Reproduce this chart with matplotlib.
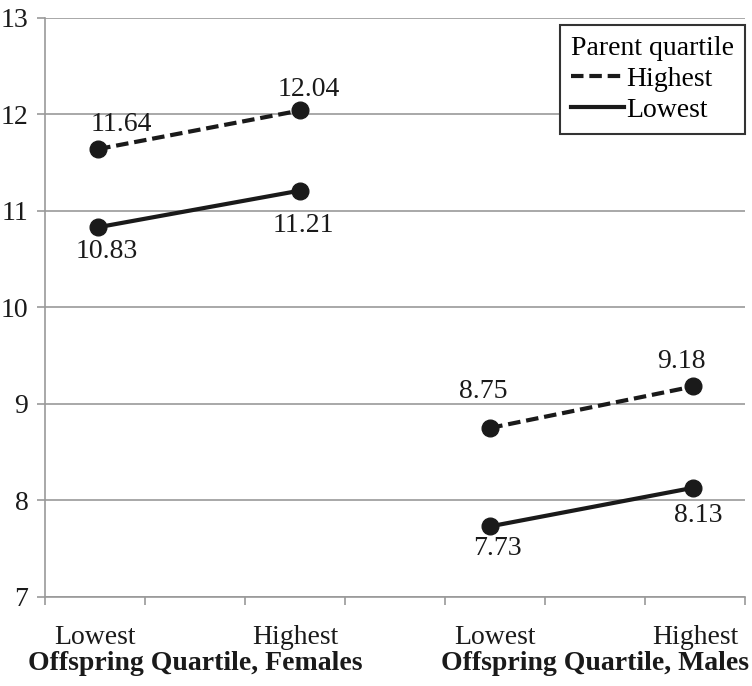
import matplotlib
matplotlib.use("Agg")
import matplotlib.pyplot as plt
from matplotlib.lines import Line2D

plt.rcParams['font.family'] = ['Liberation Serif', 'DejaVu Serif']

tick_labels = ["Lowest", "Highest", "Lowest", "Highest"]
group_labels = ["Offspring Quartile, Females", "Offspring Quartile, Males"]
highest_f = [11.64, 12.04]
lowest_f = [10.83, 11.21]
highest_m = [8.75, 9.18]
lowest_m = [7.73, 8.13]

xf = [0.03, 2.05]
xm = [3.95, 5.98]

fig = plt.figure(figsize=(7.52, 6.86), dpi=100)
ax = fig.add_axes([0.06, 0.13, 0.931, 0.844])

col = "#1a1a1a"
lw = 3.0
ms = 12
dash = (0, (3.0, 1.4))
for xs, h, l in [(xf, highest_f, lowest_f), (xm, highest_m, lowest_m)]:
    ax.plot(xs, h, linestyle=dash, color=col, lw=lw, marker='o', ms=ms, zorder=3)
    ax.plot(xs, l, linestyle='-', color=col, lw=lw, marker='o', ms=ms, zorder=3)

fs = 20

def lab(x, y, dx, dy):
    ax.annotate(f"{y:.2f}", (x, y), xytext=(dx, dy), textcoords='offset pixels',
                ha='center', va='center', fontsize=fs, color=col)

lab(xf[0], highest_f[0], 23, 25)
lab(xf[1], highest_f[1], 9, 21)
lab(xf[0], lowest_f[0], 9, -24)
lab(xf[1], lowest_f[1], 3, -35)
lab(xm[0], highest_m[0], -7, 36)
lab(xm[1], highest_m[1], -12, 25)
lab(xm[0], lowest_m[0], 7, -22)
lab(xm[1], lowest_m[1], 5, -28)

ax.set_xlim(-0.5, 6.5)
ax.set_ylim(7, 13)
ax.set_yticks(range(7, 14))
ax.set_xticks([0, 2, 4, 6])
ax.set_xticklabels(tick_labels, fontsize=fs, color=col)
ax.set_xticks([i - 0.5 for i in range(8)], minor=True)
ax.tick_params(axis='x', which='major', length=0, pad=20)
ax.tick_params(axis='x', which='minor', length=6, color='#999999', width=1.2)
ax.tick_params(axis='y', length=6, color='#999999', width=1.2, labelsize=fs, labelcolor=col, pad=6)
ax.grid(axis='y', color='#999999', lw=1.2)
ax.set_axisbelow(True)
for s in ['top', 'right']:
    ax.spines[s].set_visible(False)
for s in ['left', 'bottom']:
    ax.spines[s].set_color('#999999')
    ax.spines[s].set_linewidth(1.2)

for i, g in enumerate(group_labels):
    ax.text(1 + 4 * i, -0.116, g, transform=ax.get_xaxis_transform(),
            ha='center', va='center', fontsize=fs, fontweight='bold', color=col)

handles = [Line2D([0], [0], color=col, lw=lw, linestyle=dash),
           Line2D([0], [0], color=col, lw=lw, linestyle='-')]
leg = ax.legend(handles, ["Highest", "Lowest"], title="Parent quartile", loc='upper right',
                bbox_to_anchor=(1.0, 0.988), borderaxespad=0, fontsize=fs, title_fontsize=fs,
                frameon=True, fancybox=False, edgecolor='#333333', framealpha=1,
                handlelength=1.9, handletextpad=0.1, labelspacing=0.2, borderpad=0.4)
leg.get_frame().set_linewidth(1.5)
leg._legend_box.align = "left"

fig.savefig("out.png", dpi=100)
